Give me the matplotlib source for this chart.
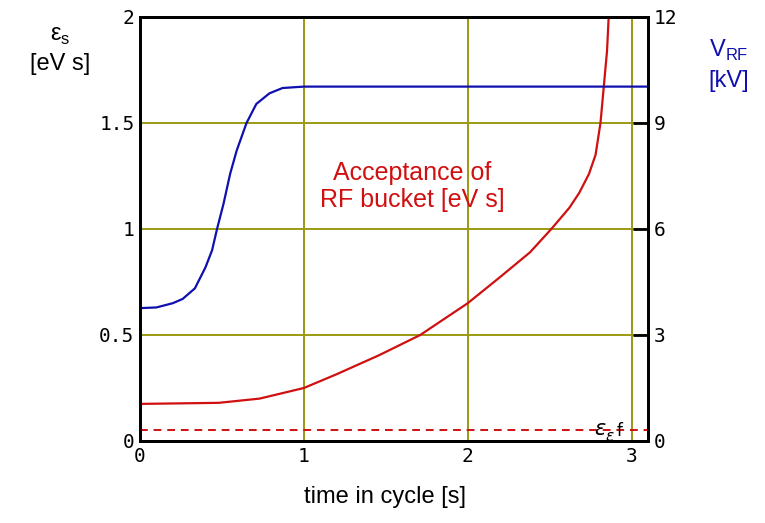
import numpy as np
import matplotlib
matplotlib.use("Agg")
import matplotlib.pyplot as plt

# RF voltage programme (right axis, kV)
t_rf = [0, 0.1, 0.2, 0.26, 0.335, 0.40, 0.44, 0.47, 0.51, 0.55, 0.59, 0.65,
        0.71, 0.79, 0.87, 1.0, 3.1]
v_rf = [3.76, 3.78, 3.9, 4.02, 4.32, 4.92, 5.4, 6.0, 6.72, 7.56, 8.22, 9.0,
        9.54, 9.84, 9.99, 10.03, 10.03]

# bucket acceptance (left axis, eV s)
t_acc = [0, 0.48, 0.73, 1.0, 1.2, 1.46, 1.71, 2.0, 2.2, 2.38, 2.51, 2.62, 2.68,
         2.74, 2.78, 2.80, 2.81, 2.83, 2.85, 2.86]
acc = [0.175, 0.18, 0.2, 0.25, 0.315, 0.405, 0.5, 0.65, 0.775, 0.89, 1.0, 1.10, 1.17,
       1.26, 1.35, 1.45, 1.5, 1.67, 1.84, 2.0]

eps_f = 0.05  # final emittance (dashed)

x_ticks = [0, 1, 2, 3]
y_ticks = [0, 0.5, 1, 1.5, 2]
y_ticklabels = ["0", "0.5", "1", "1.5", "2"]
v_ticks = [0, 3, 6, 9, 12]

grid_col = "#9a9a10"
red = "#d01010"
blue = "#1010b0"
tickfont = dict(family="DejaVu Sans Mono", size=14)

fig = plt.figure(figsize=(7.65, 5.23), dpi=100)
ax = fig.add_axes([140/765, 82/523, 508/765, 424/523])
ax.set_xlim(0, 3.1)
ax.set_ylim(0, 2)
ax.set_xticks(x_ticks)
ax.set_yticks(y_ticks)
ax.set_yticklabels(y_ticklabels)
for lab in ax.get_xticklabels() + ax.get_yticklabels():
    lab.set_fontfamily(tickfont["family"])
    lab.set_fontsize(tickfont["size"])
ax.tick_params(length=0, pad=4)
ax.grid(True, color=grid_col, lw=1.4)
ax.set_axisbelow(True)
for s in ax.spines.values():
    s.set_linewidth(2)
    s.set_color("black")

ax.plot(t_acc, acc, color=red, lw=1.6, zorder=3)
ax.axhline(eps_f, color=red, lw=1.4, ls=(0, (4, 3)), zorder=3)

ax2 = ax.twinx()
ax2.set_ylim(0, 12)
ax2.set_yticks(v_ticks)
for lab in ax2.get_yticklabels():
    lab.set_fontfamily(tickfont["family"])
    lab.set_fontsize(tickfont["size"])
ax2.tick_params(direction="in", length=11, width=2, pad=4)
ax2.plot(t_rf, v_rf, color=blue, lw=1.6)
for s in ax2.spines.values():
    s.set_linewidth(2)

ax.text(1.66, 1.2, "Acceptance of\nRF bucket [eV s]", color=red, fontsize=18,
        family="Liberation Sans", ha="center", va="center", linespacing=1.2)
ax.text(2.77, 0.055, r"$\varepsilon$", fontsize=15, color="black", va="center")
ax.text(2.84, 0.02, r"$\varepsilon$", fontsize=11, color="black", va="center")
ax.text(2.91, 0.045, "f", fontsize=12, color="black", va="center")

fig.text(60/765, 1 - 50/523, "ε$_\\mathregular{s}$\n[eV s]", fontsize=17,
         family="Liberation Sans", ha="center", va="center", linespacing=1.4)
fig.text(729/765, 1 - 65/523, "V$_\\mathregular{RF}$\n[kV]", fontsize=17, color=blue,
         family="Liberation Sans", ha="center", va="center", linespacing=1.4)
fig.text(385/765, 1 - 497/523, "time in cycle [s]", fontsize=17,
         family="Liberation Sans", ha="center", va="center")

fig.savefig("out.png", dpi=100, facecolor="white")
